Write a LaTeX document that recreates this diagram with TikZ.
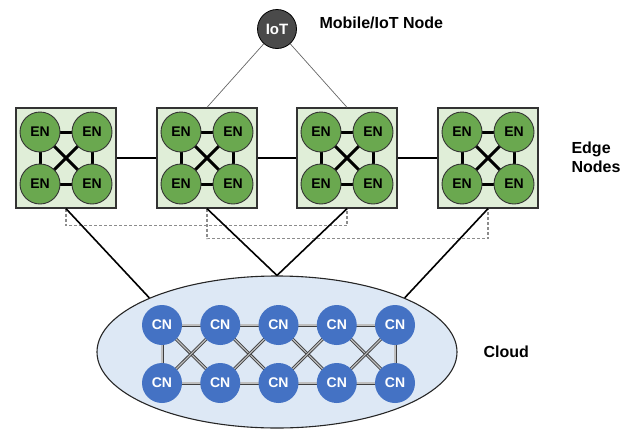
\documentclass[tikz,border=0pt]{standalone}
\usepackage{fontspec}
\setmainfont{Liberation Sans}
\usetikzlibrary{shapes.geometric}
\definecolor{engreen}{HTML}{6AA84F}
\definecolor{boxgreen}{HTML}{E0EED8}
\definecolor{cnblue}{HTML}{4472C4}
\definecolor{cloudblue}{HTML}{DDE8F5}
\definecolor{iotgray}{HTML}{4A4A4A}
\pgfdeclarelayer{bgzero}
\pgfdeclarelayer{bgone}
\pgfsetlayers{bgzero,bgone,main}
\tikzset{
  enbox/.style={draw=black!80, line width=1.3pt, fill=boxgreen, minimum size=100pt, inner sep=0pt},
  ennode/.style={circle, draw=black!80, line width=0.9pt, fill=engreen, minimum size=40pt, inner sep=0pt, font=\bfseries\fontsize{14}{14}\selectfont},
  enlink/.style={line width=3pt, black},
  cnnode/.style={circle, fill=cnblue, minimum size=40pt, inner sep=0pt, text=white, font=\bfseries\fontsize{14}{14}\selectfont},
  cnlink/.style={draw=black!75, line width=0.9pt, double=black!25, double distance=1.2pt},
  boxlink/.style={line width=1.6pt, black},
  dashlink/.style={dashed, black!45, line width=1.1pt, dash pattern=on 3pt off 2pt},
  iotlink/.style={line width=0.7pt, black!60},
  lbl/.style={font=\bfseries\fontsize{16}{19}\selectfont, align=left},
}
\begin{document}
\begin{tikzpicture}[x=1pt,y=-1pt]
\useasboundingbox (0,0) rectangle (643,429);
% cloud
\begin{pgfonlayer}{bgzero}
\node[ellipse, draw=black!85, line width=1.1pt, fill=cloudblue, minimum width=360pt, minimum height=152pt, inner sep=0pt] (cloud) at (277,352) {};
\end{pgfonlayer}
% IoT
\node[circle, draw=black, line width=0.8pt, fill=iotgray, minimum size=39pt, inner sep=0pt, text=white, font=\bfseries\fontsize{15}{15}\selectfont] (iot) at (277,29) {IoT};
\node[lbl, anchor=west] (iotlbl) at (316,23) {Mobile/IoT Node};
% edge boxes
\foreach \i/\x in {1/66,2/207,3/347,4/488}{
  \begin{pgfonlayer}{bgzero}
    \node[enbox] (b\i) at (\x,158) {};
  \end{pgfonlayer}
  \node[ennode] (e\i a) at (\x-26,132) {EN};
  \node[ennode] (e\i b) at (\x+26,132) {EN};
  \node[ennode] (e\i c) at (\x-26,184) {EN};
  \node[ennode] (e\i d) at (\x+26,184) {EN};
  \begin{pgfonlayer}{bgone}
    \draw[enlink] (e\i a.center) -- (e\i b.center);
    \draw[enlink] (e\i c.center) -- (e\i d.center);
    \draw[enlink] (e\i a.center) -- (e\i c.center);
    \draw[enlink] (e\i b.center) -- (e\i d.center);
    \draw[enlink] (e\i a.center) -- (e\i d.center);
    \draw[enlink] (e\i b.center) -- (e\i c.center);
  \end{pgfonlayer}
}
\node[lbl, anchor=west] (edgelbl) at (568,157) {Edge\\Nodes};
\node[lbl, anchor=west] (cloudlbl) at (480,352) {Cloud};
% box links
\draw[boxlink] (b1) -- (b2);
\draw[boxlink] (b2) -- (b3);
\draw[boxlink] (b3) -- (b4);
% iot links
\draw[iotlink] (iot) -- (b2.north);
\draw[iotlink] (iot) -- (b3.north);
% dashed
\begin{pgfonlayer}{bgzero}
\draw[dashlink] (b1.south) -- ++(0,17) -| (b3.south);
\draw[dashlink] (b2.south) -- ++(0,30) -| (b4.south);
\end{pgfonlayer}
% cloud links
\draw[boxlink] (b1.south) -- (cloud.north west);
\draw[boxlink] (b2.south) -- (cloud.north);
\draw[boxlink] (b3.south) -- (cloud.north);
\draw[boxlink] (b4.south) -- (cloud.north east);
% CN nodes
\foreach \i in {1,...,5}{
  \node[cnnode] (ct\i) at ({162+58.25*(\i-1)},325) {CN};
  \node[cnnode] (cb\i) at ({162+58.25*(\i-1)},383) {CN};
}
\begin{pgfonlayer}{bgone}
\foreach \i/\j in {1/2,2/3,3/4,4/5}{
  \draw[cnlink] (ct\i.center) -- (ct\j.center);
  \draw[cnlink] (cb\i.center) -- (cb\j.center);
  \draw[cnlink] (ct\i.center) -- (cb\j.center);
  \draw[cnlink] (cb\i.center) -- (ct\j.center);
}
\draw[cnlink] (ct1.center) -- (cb1.center);
\draw[cnlink] (ct5.center) -- (cb5.center);
\end{pgfonlayer}
\end{tikzpicture}
\end{document}
